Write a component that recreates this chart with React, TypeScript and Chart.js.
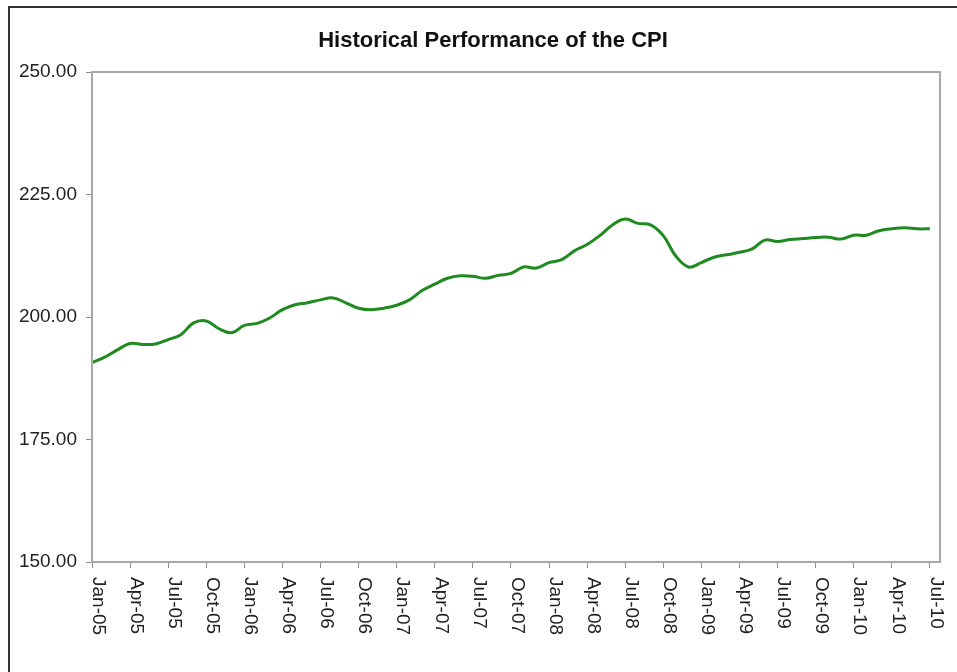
import { useEffect, useRef } from 'react';
import { Chart, registerables } from 'chart.js';

Chart.register(...registerables);

const FONT = "'Liberation Sans', Arial, Helvetica, sans-serif";

const chartTitle = 'Historical Performance of the CPI';

// Monthly CPI, Jan-05 .. Jul-10
const cpi2005 = [190.7, 191.8, 193.3, 194.6, 194.4, 194.5, 195.4, 196.4, 198.8, 199.2, 197.6, 196.8];
const cpi2006 = [198.3, 198.7, 199.8, 201.5, 202.5, 202.9, 203.5, 203.9, 202.9, 201.8, 201.5, 201.8];
const cpi2007 = [202.4, 203.5, 205.4, 206.7, 207.9, 208.4, 208.3, 207.9, 208.5, 208.9, 210.2, 210.0];
const cpi2008 = [211.1, 211.7, 213.5, 214.8, 216.6, 218.8, 220.0, 219.1, 218.8, 216.6, 212.4, 210.2];
const cpi2009 = [211.1, 212.2, 212.7, 213.2, 213.9, 215.7, 215.4, 215.8, 216.0, 216.2, 216.3, 215.9];
const cpi2010 = [216.7, 216.7, 217.6, 218.0, 218.2, 218.0, 218.0];
const cpi = [...cpi2005, ...cpi2006, ...cpi2007, ...cpi2008, ...cpi2009, ...cpi2010];

// Labels shown every third month
const tickLabels = [
  'Jan-05', 'Apr-05', 'Jul-05', 'Oct-05',
  'Jan-06', 'Apr-06', 'Jul-06', 'Oct-06',
  'Jan-07', 'Apr-07', 'Jul-07', 'Oct-07',
  'Jan-08', 'Apr-08', 'Jul-08', 'Oct-08',
  'Jan-09', 'Apr-09', 'Jul-09', 'Oct-09',
  'Jan-10', 'Apr-10', 'Jul-10',
];
const monthsPerTick = 3;

const yMin = 150;
const yMax = 250;
const yStep = 25;

export default function App() {
  const ref = useRef<HTMLCanvasElement>(null);

  useEffect(() => {
    if (!ref.current) return;

    const framePlugin = {
      id: 'frame',
      afterDraw(chart: any) {
        const { ctx, chartArea } = chart;
        ctx.save();
        ctx.strokeStyle = '#a8a8a8';
        ctx.lineWidth = 2;
        ctx.strokeRect(chartArea.left, chartArea.top, chartArea.right - chartArea.left, chartArea.bottom - chartArea.top);
        ctx.restore();
      },
    };

    const titlePlugin = {
      id: 'customTitle',
      afterDraw(chart: any) {
        const { ctx, chartArea } = chart;
        ctx.save();
        ctx.font = `bold 22px ${FONT}`;
        ctx.fillStyle = '#111';
        ctx.textAlign = 'center';
        ctx.textBaseline = 'middle';
        ctx.fillText(chartTitle, (chartArea.left + chartArea.right) / 2 - 23, chartArea.top - 31);
        ctx.restore();
      },
    };

    const xLabelPlugin = {
      id: 'xLabels',
      afterDraw(chart: any) {
        const { ctx, chartArea } = chart;
        const xs = chart.scales.x;
        ctx.save();
        ctx.font = `19px ${FONT}`;
        ctx.fillStyle = '#222';
        ctx.textAlign = 'left';
        ctx.textBaseline = 'middle';
        tickLabels.forEach((lab, k) => {
          const px = xs.getPixelForValue(k * monthsPerTick) + 6;
          ctx.save();
          ctx.translate(px, chartArea.bottom + 15);
          ctx.rotate(Math.PI / 2);
          ctx.fillText(lab, 0, 0);
          ctx.restore();
        });
        ctx.restore();
      },
    };

    const chart = new Chart(ref.current, {
      type: 'line',
      data: {
        datasets: [
          {
            data: cpi.map((y, i) => ({ x: i, y })),
            borderColor: '#1f8a1f',
            borderWidth: 3,
            tension: 0.4,
            pointRadius: 0,
            fill: false,
          },
        ],
      },
      options: {
        responsive: false,
        animation: false,
        devicePixelRatio: 1,
        layout: { padding: { left: 0, right: 17, top: 64, bottom: 0 } },
        plugins: {
          legend: { display: false },
          tooltip: { enabled: false },
          title: { display: false },
        },
        scales: {
          x: {
            type: 'linear',
            min: 0,
            max: cpi.length - 1 + 0.8,
            afterBuildTicks: (s: any) => {
              s.ticks = tickLabels.map((_, k) => ({ value: k * monthsPerTick }));
            },
            afterFit: (s: any) => {
              s.height = 110;
            },
            ticks: { display: false },
            grid: { drawOnChartArea: false, drawTicks: true, tickLength: 6, color: '#8c8c8c' },
            border: { color: '#a8a8a8', width: 2 },
          },
          y: {
            min: yMin,
            max: yMax,
            afterFit: (s: any) => {
              s.width = 82;
            },
            ticks: {
              stepSize: yStep,
              padding: 9,
              color: '#222',
              font: { family: FONT, size: 19 },
              callback: (v: any) => Number(v).toFixed(2),
            },
            grid: { drawOnChartArea: false, drawTicks: true, tickLength: 6, color: '#8c8c8c' },
            border: { color: '#a8a8a8', width: 2 },
          },
        },
      },
      plugins: [framePlugin, titlePlugin, xLabelPlugin],
    } as any);

    return () => chart.destroy();
  }, []);

  return (
    <div
      style={{
        position: 'fixed',
        left: 8,
        top: 6,
        width: 949,
        height: 666,
        overflow: 'hidden',
        borderLeft: '2px solid #333',
        borderTop: '2px solid #333',
        boxSizing: 'border-box',
        background: '#fff',
      }}
    >
      <canvas ref={ref} width={947} height={664} style={{ display: 'block', width: 947, height: 664 }} />
    </div>
  );
}
